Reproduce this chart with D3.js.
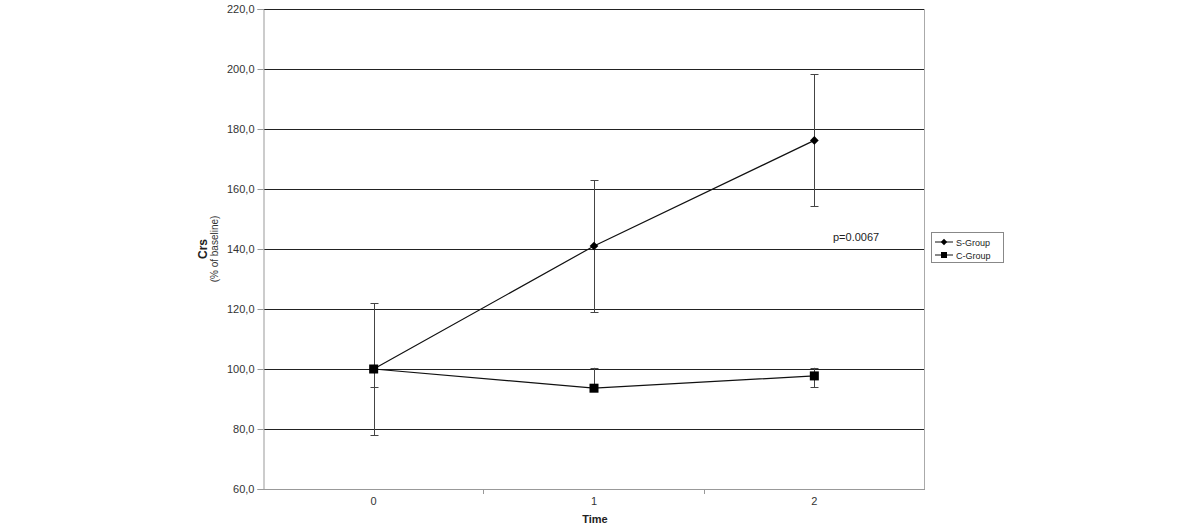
<!DOCTYPE html>
<html><head><meta charset="utf-8">
<script src="https://cdn.jsdelivr.net/npm/d3@7"></script>
<style>body{margin:0;background:#fff;} svg{display:block;font-family:Arial,"Liberation Sans",sans-serif;}</style>
</head><body><svg id="c" width="1200" height="528"></svg>
<script>
const categories = ["0","1","2"];
const yTicks = [60,80,100,120,140,160,180,200,220];
const sValues = [100, 141, 176.2];
const sLow = [78, 119, 154.3];
const sHigh = [122, 163, 198.2];
const cValues = [100, 93.6, 97.7];
const cLow = [94, 93.6, 94];
const cHigh = [100, 100.4, 100.4];
const seriesNames = ["S-Group","C-Group"];

const svg = d3.select("#c");
const L=263.5, R=924.5, T=9, B=489;
const x = d3.scaleBand().domain(categories).range([L,R]);
const y = d3.scaleLinear().domain([60,220]).range([B,T]);
const cx = d => x(d)+x.bandwidth()/2;

// gridlines
svg.append("g").selectAll("line").data(yTicks.filter(v=>v>60)).join("line")
  .attr("x1",L).attr("x2",R).attr("y1",d=>y(d)).attr("y2",d=>y(d))
  .attr("stroke","#222").attr("stroke-width",1).attr("shape-rendering","crispEdges");
// right border
svg.append("line").attr("x1",R).attr("x2",R).attr("y1",T).attr("y2",B).attr("stroke","#aaa").attr("shape-rendering","crispEdges");

// y axis
const ya = svg.append("g").attr("transform",`translate(${L},0)`)
  .call(d3.axisLeft(y).tickValues(yTicks).tickSize(6).tickPadding(3).tickFormat(d=>d3.format(".1f")(d).replace(".",",")));
ya.select(".domain").attr("stroke","#999");
ya.selectAll(".tick line").attr("stroke","#999");
ya.selectAll("text").attr("font-size",11).attr("fill","#333").attr("font-family","Arial,'Liberation Sans',sans-serif");

// x axis
const xa = svg.append("g").attr("transform",`translate(0,${B})`)
  .call(d3.axisBottom(x).tickSize(0).tickPadding(8));
xa.select(".domain").attr("stroke","#999");
xa.selectAll("text").attr("font-size",11).attr("fill","#333").attr("font-family","Arial,'Liberation Sans',sans-serif");
// boundary tick marks
svg.append("g").selectAll("line").data(categories.slice(1)).join("line")
  .attr("x1",d=>x(d)).attr("x2",d=>x(d)).attr("y1",B).attr("y2",B+5)
  .attr("stroke","#999").attr("shape-rendering","crispEdges");

// titles
svg.append("text").attr("x",595).attr("y",523).attr("text-anchor","middle")
  .attr("font-size",11).attr("font-weight","bold").attr("fill","#222").text("Time");
const yt = svg.append("g").attr("transform","translate(207,249) rotate(-90)");
yt.append("text").attr("text-anchor","middle").attr("font-size",12).attr("font-weight","bold").attr("fill","#222").text("Crs");
yt.append("text").attr("y",11).attr("text-anchor","middle").attr("font-size",10).attr("fill","#333").text("(% of  baseline)");

function errBars(vals, lo, hi){
  const g = svg.append("g").attr("stroke","#444").attr("stroke-width",1);
  categories.forEach((c,i)=>{
    const px = Math.round(cx(c))+0.5;
    if (hi[i] > vals[i]) {
      g.append("line").attr("x1",px).attr("x2",px).attr("y1",y(vals[i])).attr("y2",y(hi[i]));
      g.append("line").attr("x1",px-4).attr("x2",px+4).attr("y1",Math.round(y(hi[i]))+0.5).attr("y2",Math.round(y(hi[i]))+0.5);
    }
    if (lo[i] < vals[i]) {
      g.append("line").attr("x1",px).attr("x2",px).attr("y1",y(vals[i])).attr("y2",y(lo[i]));
      g.append("line").attr("x1",px-4).attr("x2",px+4).attr("y1",Math.round(y(lo[i]))+0.5).attr("y2",Math.round(y(lo[i]))+0.5);
    }
  });
}
errBars(sValues,sLow,sHigh);
errBars(cValues,cLow,cHigh);

const line = d3.line().x((d,i)=>cx(categories[i])).y(d=>y(d));
svg.append("path").datum(cValues).attr("d",line).attr("fill","none").attr("stroke","#111").attr("stroke-width",1.2);
svg.append("path").datum(sValues).attr("d",line).attr("fill","none").attr("stroke","#111").attr("stroke-width",1.2);

const diamond = d3.symbol().type(d3.symbolDiamond2).size(55);
svg.append("g").selectAll("path").data(sValues).join("path")
  .attr("transform",(d,i)=>`translate(${cx(categories[i])},${y(d)}) rotate(45)`)
  .attr("d",d3.symbol().type(d3.symbolSquare).size(38)).attr("fill","#000");
svg.append("g").selectAll("rect").data(cValues).join("rect")
  .attr("x",(d,i)=>cx(categories[i])-4.5).attr("y",d=>y(d)-4.5).attr("width",9).attr("height",9).attr("fill","#000");

svg.append("text").attr("x",833).attr("y",241).attr("font-size",11).attr("fill","#222").text("p=0.0067");

// legend
const lg = svg.append("g");
lg.append("rect").attr("x",931.5).attr("y",232.5).attr("width",72).attr("height",30).attr("fill","#fff").attr("stroke","#888");
seriesNames.forEach((n,i)=>{
  const ly = 242 + i*13;
  lg.append("line").attr("x1",935).attr("x2",953).attr("y1",ly).attr("y2",ly).attr("stroke","#111");
  if(i===0) lg.append("path").attr("transform",`translate(944,${ly}) rotate(45)`).attr("d",d3.symbol().type(d3.symbolSquare).size(20)).attr("fill","#000");
  else lg.append("rect").attr("x",941).attr("y",ly-3).attr("width",6).attr("height",6).attr("fill","#000");
  lg.append("text").attr("x",956).attr("y",ly+3.5).attr("font-size",9).attr("fill","#222").text(n);
});
</script></body></html>
